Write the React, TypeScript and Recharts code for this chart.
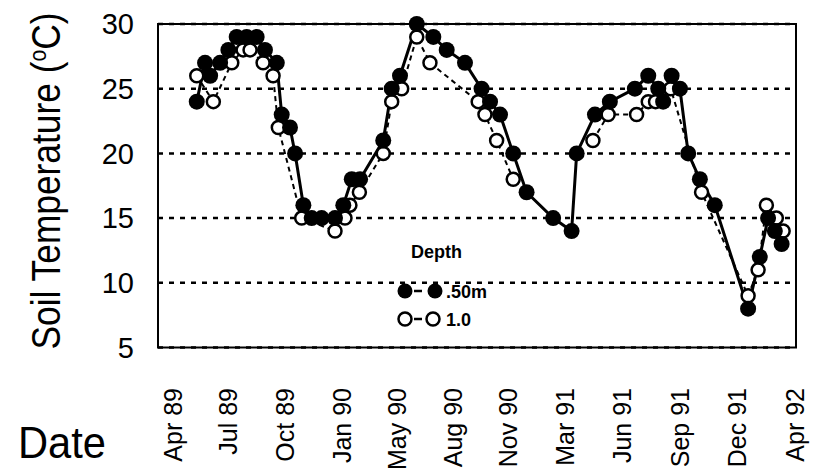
import React from "react"
import { LineChart, Line, XAxis, YAxis, CartesianGrid } from "recharts"

// x positions are months counted from the first axis tick (Apr 89), y values in deg C
const filledMonths = [
  1.99, 2.48, 2.78, 3.37, 3.86, 4.35, 4.94, 5.53, 6.02, 6.72, 7.01, 7.5, 7.8, 8.29, 8.78, 9.37, 10.16,
  10.65, 11.15, 11.64, 13.01, 13.51, 14.0, 14.99, 15.97, 16.76, 17.84, 18.82, 19.32, 19.91, 20.69,
  21.48, 23.05, 24.14, 24.44, 25.52, 26.4, 27.88, 28.67, 29.26, 29.55, 30.05, 30.54, 31.03, 31.72,
  32.6, 34.57, 35.26, 35.75, 36.15, 36.55,
]
const filledTemps = [
  24, 27, 26, 27, 28, 29, 29, 29, 28, 27, 23, 22, 20, 16, 15, 15, 15,
  16, 18, 18, 21, 25, 26, 30, 29, 28, 27, 25, 24, 23, 20,
  17, 15, 14, 20, 23, 24, 25, 26, 25, 24, 26, 25, 20, 18,
  16, 8, 12, 15, 14, 13,
]

// null = no 1.0 m reading (line broken there)
const openMonths = [
  1.99, 2.97, 4.06, 4.73, 5.14, 5.91, 6.5, 6.81, 8.19, 10.16, 10.75, 11.04, 11.6, 13.01, 13.51,
  14.1, 14.99, 15.77, 18.62, 19.02, 19.71, 20.69, 23.0, 25.4, 26.3, 27.98, 28.67, 29.1, 30.0, 31.82,
  34.57, 35.16, 35.65, 36.24, 36.64,
]
const openTemps = [
  26, 24, 27, 28, 28, 27, 26, 22, 15, 14, 15, 16, 17, 20, 24,
  25, 29, 27, 24, 23, 21, 18, null, 21, 23, 23, 24, 24, 25, 17,
  9, 11, 16, 15, 14,
]

const tickMonths = [0, 3, 6, 9, 12, 15, 18, 21, 24, 27, 30, 33, 36]
const dateLabels = [
  "Apr 89", "Jul 89", "Oct 89", "Jan 90", "May 90", "Aug 90",
  "Nov 90", "Mar 91", "Jun 91", "Sep 91", "Dec 91", "Apr 92",
]
const labelMonths = [0.59, 3.84, 7.21, 10.57, 13.82, 17.13, 20.38, 23.74, 27.11, 30.54, 33.9, 37.33]
const tempTicks = [5, 10, 15, 20, 25, 30]

const filledData = filledMonths.map((m, i) => ({ m, t: filledTemps[i] }))
const openData = openMonths.map((m, i) => ({ m, t: openTemps[i] }))

const W = 813
const H = 470
const FONT = "'Liberation Sans', Arial, Helvetica, sans-serif"
const X_DOMAIN: [number, number] = [-0.3, 37.4]
const Y_DOMAIN: [number, number] = [5, 30]
// plot box
const PLOT = { left: 158, top: 24, right: 796, bottom: 347.5 }

function TickMark(props: any) {
  const { x, y } = props
  return <line x1={x} x2={x} y1={y} y2={y - 6} stroke="#000" strokeWidth={2} />
}

function DateTick(props: any) {
  const { x, y, payload } = props
  const idx = labelMonths.indexOf(payload.value)
  return (
    <text
      transform={`translate(${x},${y + 40.5}) rotate(-90)`}
      textAnchor="end"
      dy="0.36em"
      fontSize={25}
      fontFamily={FONT}
      fill="#000"
    >
      {dateLabels[idx]}
    </text>
  )
}

function Overlay() {
  return (
    <svg
      width={W}
      height={H}
      style={{ position: "absolute", left: 0, top: 0, pointerEvents: "none" }}
      fontFamily={FONT}
    >
      <rect
        x={PLOT.left}
        y={PLOT.top}
        width={PLOT.right - PLOT.left}
        height={PLOT.bottom - PLOT.top}
        fill="none"
        stroke="#000"
        strokeWidth={2}
      />
      <text x={60} y={181} transform="rotate(-90 60 181)" textAnchor="middle" fontSize={40} textLength={337} lengthAdjust="spacingAndGlyphs">
        Soil Temperature (
        <tspan fontSize={24} dy={-14}>o</tspan>
        <tspan dy={14}>C)</tspan>
      </text>
      <text x={18} y={458} fontSize={44} textLength={88} lengthAdjust="spacingAndGlyphs">
        Date
      </text>
      {/* legend */}
      <text x={411} y={258} fontSize={18} fontWeight="bold">Depth</text>
      <line x1={405} y1={291} x2={435} y2={291} stroke="#000" strokeWidth={2.5} strokeDasharray="0 9 8 20" />
      <circle cx={405} cy={291} r={7.5} fill="#000" />
      <circle cx={435} cy={291} r={7.5} fill="#000" />
      <text x={446} y={298} fontSize={18} fontWeight="bold">.50m</text>
      <line x1={405} y1={319} x2={433} y2={319} stroke="#000" strokeWidth={2.5} strokeDasharray="0 9 8 20" />
      <circle cx={405} cy={319} r={6.5} fill="#fff" stroke="#000" strokeWidth={2.5} />
      <circle cx={433} cy={319} r={6.5} fill="#fff" stroke="#000" strokeWidth={2.5} />
      <text x={446} y={326} fontSize={18} fontWeight="bold">1.0</text>
    </svg>
  )
}

export default function App() {
  return (
    <div style={{ position: "absolute", left: 0, top: 0, width: W, height: H, background: "#fff" }}>
      <LineChart width={W} height={H} margin={{ top: PLOT.top, right: W - PLOT.right, left: 0, bottom: 0 }}>
        <CartesianGrid vertical={false} stroke="#000" strokeWidth={2.5} strokeDasharray="5 6" />
        <XAxis
          xAxisId="main"
          type="number"
          dataKey="m"
          domain={X_DOMAIN}
          ticks={tickMonths}
          allowDataOverflow
          interval={0}
          height={0}
          axisLine={false}
          tickLine={false}
          tickSize={0}
          tickMargin={0}
          tick={<TickMark />}
        />
        <XAxis
          xAxisId="labels"
          type="number"
          dataKey="m"
          domain={X_DOMAIN}
          ticks={labelMonths}
          allowDataOverflow
          interval={0}
          height={H - PLOT.bottom}
          axisLine={false}
          tickLine={false}
          tickSize={0}
          tickMargin={0}
          tick={<DateTick />}
        />
        <YAxis
          type="number"
          domain={Y_DOMAIN}
          ticks={tempTicks}
          width={PLOT.left}
          axisLine={false}
          tickLine={false}
          tickSize={0}
          tickMargin={24}
          tick={{ fontSize: 29, fill: "#000", fontFamily: FONT }}
        />
        <Line
          xAxisId="main"
          data={openData}
          dataKey="t"
          type="linear"
          stroke="#000"
          strokeWidth={2}
          strokeDasharray="5 4"
          dot={{ r: 6.5, fill: "#fff", stroke: "#000", strokeWidth: 2.5, strokeDasharray: "" }}
          isAnimationActive={false}
        />
        <Line
          xAxisId="main"
          data={filledData}
          dataKey="t"
          type="linear"
          stroke="#000"
          strokeWidth={3}
          dot={{ r: 8, fill: "#000", stroke: "#000", strokeWidth: 0 }}
          isAnimationActive={false}
        />
      </LineChart>
      <Overlay />
    </div>
  )
}
